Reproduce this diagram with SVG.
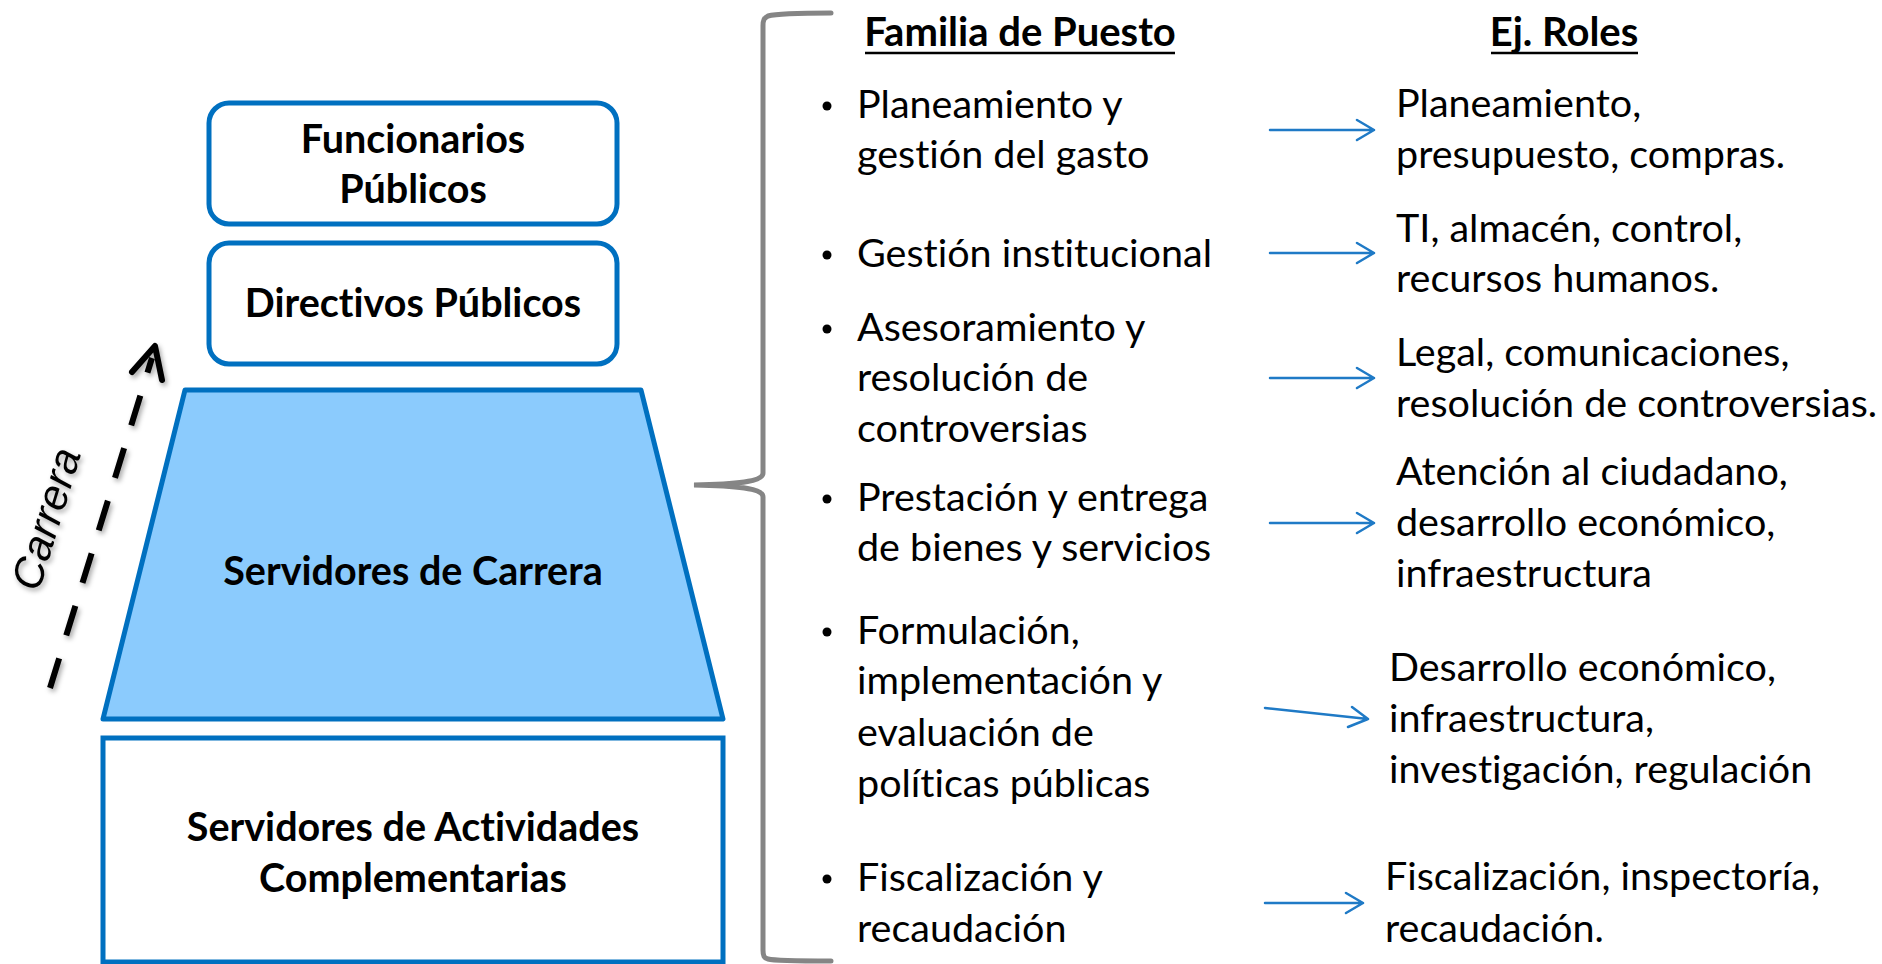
<svg xmlns="http://www.w3.org/2000/svg" width="1882" height="964" viewBox="0 0 1882 964">
<defs>
<style>
text{font-variant-ligatures:none}
.node{fill:#fff;stroke:#0070C0;stroke-width:5}
.trap{fill:#8BCBFD;stroke:#0070C0;stroke-width:5;stroke-linejoin:round}
.bt{font-family:Lato,"Liberation Sans",sans-serif;font-weight:bold;font-size:39.5px;fill:#000;text-anchor:middle}
.rt{font-family:Lato,"Liberation Sans",sans-serif;font-size:39.5px;fill:#000}
.hd{font-family:Lato,"Liberation Sans",sans-serif;font-weight:bold;font-size:40px;fill:#000;text-anchor:middle}
.ul{stroke:#000;stroke-width:2.5}
.arr{stroke:#1F7AC6;stroke-width:2.5;fill:none;stroke-linecap:round;stroke-linejoin:round}
.brace{stroke:#858585;stroke-width:5;fill:none;stroke-linecap:round}
</style>
<filter id="sh" x="-50%" y="-50%" width="200%" height="200%">
<feDropShadow dx="2" dy="3" stdDeviation="2.5" flood-color="#000" flood-opacity="0.35"/>
</filter>
</defs>
<rect width="1882" height="964" fill="#fff"/>

<g id="funcionarios">
<rect class="node" x="209" y="103" width="408" height="121" rx="20"/>
<text class="bt" x="413" y="153">Funcionarios</text>
<text class="bt" x="413" y="203">Públicos</text>
</g>
<g id="directivos">
<rect class="node" x="209" y="243" width="408" height="121" rx="20"/>
<text class="bt" x="413" y="317">Directivos Públicos</text>
</g>
<g id="carrera">
<polygon class="trap" points="185,390 641,390 723,719 103,719"/>
<text class="bt" x="413" y="585">Servidores de Carrera</text>
</g>
<g id="complementarias">
<rect class="node" x="103" y="738" width="620" height="224"/>
<text class="bt" x="413" y="841">Servidores de Actividades</text>
<text class="bt" x="413" y="892">Complementarias</text>
</g>

<g id="carrera-arrow" filter="url(#sh)">
<line x1="50" y1="688" x2="152" y2="358" stroke="#000" stroke-width="6" stroke-dasharray="31 24"/>
<polyline points="132,372 155,346 162,380" fill="none" stroke="#000" stroke-width="6" stroke-linecap="round" stroke-linejoin="round"/>
<text x="60" y="523" transform="rotate(-73 60 523)" font-family="Liberation Sans, Arial, sans-serif" font-style="italic" font-size="43" text-anchor="middle" fill="#000">Carrera</text>
</g>

<g id="brace">
<path class="brace" d="M831 13 C800 13 775 14 768 16 C764 18 763 20 763 26 L763 473 C763 481 745 484 694 485 C745 486 763 489 763 497 L763 950 C763 956 764 958 768 959 C775 961 800 961 831 961"/>
</g>

<g id="familia">
<text class="hd" x="1020" y="46">Familia de Puesto</text>
<line class="ul" x1="865" y1="53" x2="1175" y2="53"/>
<circle cx="827" cy="106" r="4.5"/>
<text class="rt" x="857" y="118">Planeamiento y</text>
<text class="rt" x="857" y="168">gestión del gasto</text>
<circle cx="827" cy="255" r="4.5"/>
<text class="rt" x="857" y="267">Gestión institucional</text>
<circle cx="827" cy="329" r="4.5"/>
<text class="rt" x="857" y="341">Asesoramiento y</text>
<text class="rt" x="857" y="391">resolución de</text>
<text class="rt" x="857" y="442">controversias</text>
<circle cx="827" cy="499" r="4.5"/>
<text class="rt" x="857" y="511">Prestación y entrega</text>
<text class="rt" x="857" y="561">de bienes y servicios</text>
<circle cx="827" cy="632" r="4.5"/>
<text class="rt" x="857" y="644">Formulación,</text>
<text class="rt" x="857" y="694">implementación y</text>
<text class="rt" x="857" y="746">evaluación de</text>
<text class="rt" x="857" y="797">políticas públicas</text>
<circle cx="827" cy="879" r="4.5"/>
<text class="rt" x="857" y="891">Fiscalización y</text>
<text class="rt" x="857" y="942">recaudación</text>
</g>

<g id="roles">
<text class="hd" x="1564" y="46">Ej. Roles</text>
<line class="ul" x1="1491" y1="53" x2="1638" y2="53"/>
<text class="rt" x="1396" y="117">Planeamiento,</text>
<text class="rt" x="1396" y="168">presupuesto, compras.</text>
<text class="rt" x="1396" y="242">TI, almacén, control,</text>
<text class="rt" x="1396" y="292">recursos humanos.</text>
<text class="rt" x="1396" y="366">Legal, comunicaciones,</text>
<text class="rt" x="1396" y="417">resolución de controversias.</text>
<text class="rt" x="1396" y="485">Atención al ciudadano,</text>
<text class="rt" x="1396" y="536">desarrollo económico,</text>
<text class="rt" x="1396" y="587">infraestructura</text>
<text class="rt" x="1389" y="681">Desarrollo económico,</text>
<text class="rt" x="1389" y="732">infraestructura,</text>
<text class="rt" x="1389" y="783">investigación, regulación</text>
<text class="rt" x="1385" y="890">Fiscalización, inspectoría,</text>
<text class="rt" x="1385" y="942">recaudación.</text>
</g>

<g id="connectors">
<path class="arr" d="M1270 130 L1374 130 M1357 120 L1374 130 L1357 140"/>
<path class="arr" d="M1270 253 L1374 253 M1357 243 L1374 253 L1357 263"/>
<path class="arr" d="M1270 378 L1374 378 M1357 368 L1374 378 L1357 388"/>
<path class="arr" d="M1270 523 L1374 523 M1357 513 L1374 523 L1357 533"/>
<path class="arr" d="M1265 708 L1368 719 M1352 707 L1368 719 L1348 727"/>
<path class="arr" d="M1265 903 L1363 903 M1346 893 L1363 903 L1346 913"/>
</g>
</svg>
